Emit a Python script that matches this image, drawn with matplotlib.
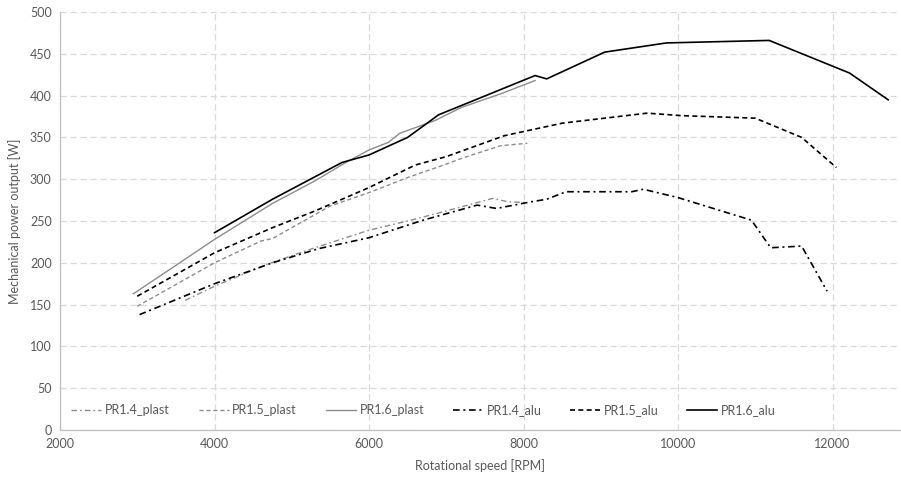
import matplotlib

matplotlib.use("Agg")
import matplotlib.pyplot as plt

# Power curves, read as (rpm, W) pairs per propeller variant
pr14_plast_rpm = [3620, 4000, 4700, 5300, 6000, 6500, 7000, 7600, 7800, 8050]
pr14_plast_w = [155, 172, 199, 218, 239, 250, 262, 277, 273, 272]

pr15_plast_rpm = [3000, 4000, 4600, 4750, 5500, 6000, 6500, 7000, 7200, 7700, 8050]
pr15_plast_w = [148, 200, 226, 229, 268, 284, 302, 318, 325, 340, 343]

pr16_plast_rpm = [2950, 3550, 4000, 4750, 5300, 5700, 6000, 6250, 6400, 6850, 7200, 7700, 8150]
pr16_plast_w = [163, 200, 228, 271, 298, 320, 335, 344, 355, 370, 386, 402, 418]

pr14_alu_rpm = [3030, 4000, 4750, 5350, 6000, 6700, 7400, 7650, 8100, 8300, 8550,
                9400, 9550, 10000, 10950, 11200, 11600, 11930]
pr14_alu_w = [138, 175, 200, 217, 230, 251, 269, 265, 273, 276, 285,
              285, 288, 278, 251, 218, 220, 166]

pr15_alu_rpm = [3000, 4000, 4750, 5300, 6000, 6600, 7000, 7750, 8500, 9600, 10050,
                11000, 11600, 12050]
pr15_alu_w = [160, 212, 242, 262, 290, 317, 327, 352, 367, 379, 376, 373, 350, 314]

pr16_alu_rpm = [4000, 4750, 5650, 6000, 6500, 6900, 8150, 8300, 9050, 9850, 11180,
                12220, 12720]
pr16_alu_w = [236, 276, 320, 329, 350, 377, 424, 420, 452, 463, 466, 427, 395]

x_ticks = [2000, 4000, 6000, 8000, 10000, 12000]
y_ticks = [0, 50, 100, 150, 200, 250, 300, 350, 400, 450, 500]

GRAY = "#8c8c8c"
BLACK = "#000000"
TEXT = "#595959"
GRID = "#d9d9d9"
DASH_DOT = (0, (4, 2.2, 1.2, 2.2))
DASHED = (0, (3, 2))

plt.rcParams["font.family"] = ["Lato", "DejaVu Sans"]

figure = plt.figure(figsize=(9.01, 4.78), dpi=100)
axis = figure.add_axes([0.0666, 0.1004, 0.932, 0.8745])

series = [
    (pr14_plast_rpm, pr14_plast_w, "PR1.4_plast", GRAY, DASH_DOT, 1.0),
    (pr15_plast_rpm, pr15_plast_w, "PR1.5_plast", GRAY, DASHED, 1.0),
    (pr16_plast_rpm, pr16_plast_w, "PR1.6_plast", GRAY, "-", 1.0),
    (pr14_alu_rpm, pr14_alu_w, "PR1.4_alu", BLACK, DASH_DOT, 1.2),
    (pr15_alu_rpm, pr15_alu_w, "PR1.5_alu", BLACK, DASHED, 1.2),
    (pr16_alu_rpm, pr16_alu_w, "PR1.6_alu", BLACK, "-", 1.2),
]
for rpm, power, label, color, style, width in series:
    axis.plot(rpm, power, color=color, linestyle=style, linewidth=width, label=label)

axis.set_xlim(2000, 12870)
axis.set_ylim(0, 500)
axis.set_xticks(x_ticks)
axis.set_yticks(y_ticks)
axis.tick_params(length=0, labelsize=9, labelcolor=TEXT, pad=6)
axis.grid(color=GRID, linestyle=(0, (5, 3)), linewidth=0.9)
axis.set_axisbelow(True)
for side in ("top", "right"):
    axis.spines[side].set_visible(False)
for side in ("left", "bottom"):
    axis.spines[side].set_color("#bfbfbf")
    axis.spines[side].set_linewidth(0.9)

axis.set_xlabel("Rotational speed [RPM]", fontsize=9, color=TEXT, labelpad=6)
axis.set_ylabel("Mechanical power output [W]", fontsize=9, color=TEXT, labelpad=6)

legend = axis.legend(
    loc="center",
    bbox_to_anchor=(0.433, 0.048),
    ncol=6,
    frameon=False,
    fontsize=9,
    handlelength=2.4,
    handletextpad=0.3,
    columnspacing=2.3,
)
for text in legend.get_texts():
    text.set_color(TEXT)

figure.savefig("out.png", dpi=100)
plt.close(figure)
